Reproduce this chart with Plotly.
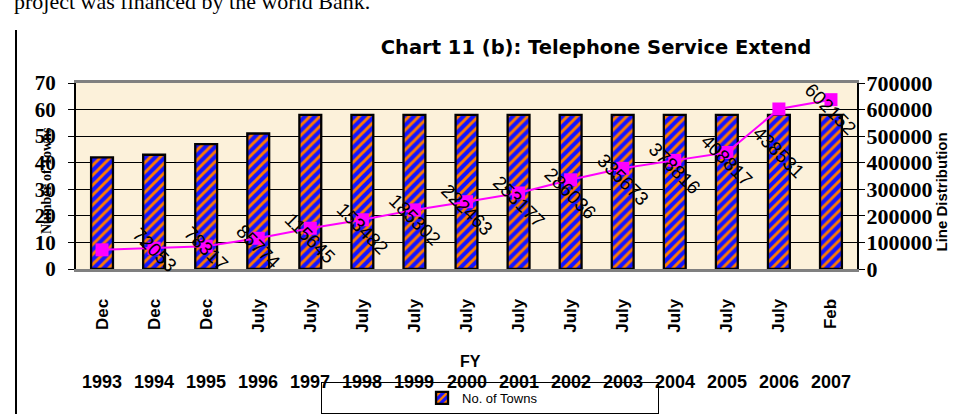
import plotly.graph_objects as go

years = ["1993", "1994", "1995", "1996", "1997", "1998", "1999", "2000",
         "2001", "2002", "2003", "2004", "2005", "2006", "2007"]
months = ["Dec", "Dec", "Dec", "July", "July", "July", "July", "July",
          "July", "July", "July", "July", "July", "July", "Feb"]
towns = [42, 43, 47, 51, 58, 58, 58, 58, 58, 58, 58, 58, 58, 58, 58]
lines = [72053, 78317, 85774, 115645, 153482, 185302, 222463, 253177,
         286036, 335673, 378816, 408817, 438531, 602152, 637269]

# plot area in pixels
L, R, T, B = 76, 857, 83, 269
W, H = 957, 414
def px(x):
    return (x - L) / (R - L)
def py(y):
    return (B - y) / (B - T)

fig = go.Figure()
fig.add_trace(go.Bar(
    x=years, y=towns, name="No. of Towns", width=0.42,
    marker=dict(color="#1414FF", line=dict(color="black", width=2.3),
                pattern=dict(shape="/", fgcolor="#FF7A00", bgcolor="#1414FF",
                             size=7, solidity=0.42, fillmode="replace")),
    yaxis="y", showlegend=True))
fig.add_trace(go.Scatter(
    x=years, y=lines, mode="lines+markers", yaxis="y2", showlegend=False,
    line=dict(color="#FF00FF", width=2),
    marker=dict(symbol="square", size=13, color="#FF00FF")))

ann = []
# data labels (shifted to the next category, as in the reference)
for i, v in enumerate(lines):
    ann.append(dict(x=i + 1, y=v, xref="x", yref="y2", text=str(v),
                    showarrow=False, textangle=45,
                    font=dict(family="Liberation Sans", size=19, color="black")))
# year labels
for i, yr in enumerate(years):
    ann.append(dict(x=i, y=py(382), xref="x", yref="paper", text=yr,
                    showarrow=False, yanchor="middle",
                    font=dict(family="Liberation Sans", size=18, color="black", weight="bold")))
ann.append(dict(x=px(470), y=py(372), xref="paper", yref="paper", text="FY",
                showarrow=False, font=dict(family="Liberation Sans", size=16, color="black", weight="bold")))
ann.append(dict(x=px(37), y=py(236), xref="paper", yref="paper", text="Number of Towns",
                showarrow=False, textangle=-90,
                font=dict(family="Liberation Serif", size=14, color="black", weight="bold")))
ann.append(dict(x=px(951), y=py(192), xref="paper", yref="paper", text="Line Distribution",
                showarrow=False, textangle=-90,
                font=dict(family="Liberation Sans", size=15, color="black", weight="bold")))
ann.append(dict(x=px(12), y=py(16), xref="paper", yref="paper", xanchor="left", yanchor="bottom",
                text="project was financed by the world Bank.", showarrow=False,
                font=dict(family="Liberation Serif", size=22, color="black")))

fig.update_layout(
    width=W, height=H, autosize=False,
    margin=dict(l=L, r=W - R, t=T, b=H - B),
    paper_bgcolor="white", plot_bgcolor="#FCF1DA",
    title=dict(text="Chart 11 (b): Telephone Service Extend", x=596 / W, xanchor="center",
               y=1 - 47 / H, yanchor="middle",
               font=dict(family="DejaVu Sans", size=19.5, color="black", weight="bold")),
    xaxis=dict(type="category", range=[-0.5, 14.5], tickvals=years, ticktext=months,
               tickangle=-90, ticklabelstandoff=20, ticks="", automargin=False,
               tickfont=dict(family="Liberation Sans", size=17, color="black", weight="bold"),
               showline=True, linecolor="#808080", linewidth=3, mirror=True,
               showgrid=False, zeroline=False),
    yaxis=dict(range=[0, 70], dtick=10, showgrid=True, gridcolor="black", gridwidth=1,
               showline=True, linecolor="black", linewidth=2, ticks="outside", ticklen=6,
               tickcolor="black", zeroline=False, automargin=False, ticklabelstandoff=8,
               tickfont=dict(family="Liberation Serif", size=21, color="black", weight="bold")),
    yaxis2=dict(range=[0, 700000], dtick=100000, overlaying="y", side="right",
                showgrid=False, zeroline=False, showline=True, linecolor="black", linewidth=2,
                ticks="outside", ticklen=6, tickcolor="black", tickformat="d", automargin=False,
                ticklabelstandoff=-3,
                tickfont=dict(family="Liberation Serif", size=22, color="black", weight="bold")),
    legend=dict(x=321 / W, y=1 - 382 / H, xref="container", yref="container",
                xanchor="left", yanchor="top",
                orientation="h", bgcolor="white", bordercolor="black", borderwidth=1,
                entrywidth=190, entrywidthmode="pixels",
                title=dict(text="\u00a0" * 27, side="left", font=dict(size=12)),
                font=dict(family="Liberation Sans", size=13, color="black")),
    annotations=ann,
    shapes=[dict(type="line", xref="paper", yref="paper", x0=px(16), x1=px(16),
                 y0=py(30), y1=py(430), line=dict(color="black", width=2))],
    bargap=0.5,
)
fig.write_html("out.html", config={"displayModeBar": False},
               post_script="document.body.style.margin='0';document.body.style.overflow='hidden';")
